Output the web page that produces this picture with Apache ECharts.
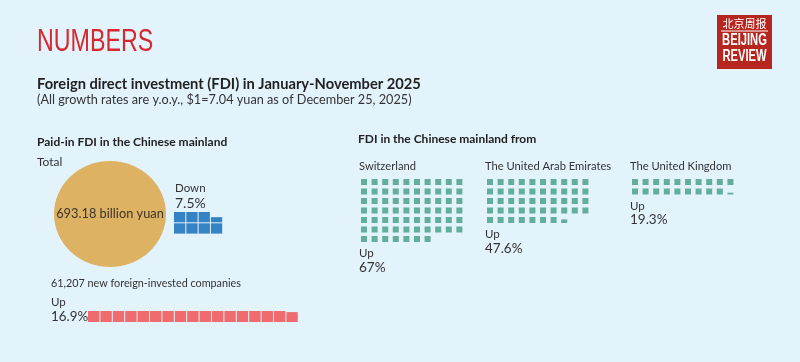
<!DOCTYPE html>
<html>
<head>
<meta charset="utf-8">
<script src="https://cdn.jsdelivr.net/npm/echarts@6/dist/echarts.min.js"></script>
<style>
html,body{margin:0;padding:0;background:#e2f3fb;}
#chart{width:800px;height:362px;}
</style>
</head>
<body>
<div id="chart"></div>
<script>
// ---- data ----
const paidInTotal = 693.18;            // billion yuan
const paidInChangePct = 7.5;           // down, y.o.y.
const newCompanies = 61207;
const newCompaniesChangePct = 16.9;    // up, y.o.y.
const countries = ['Switzerland', 'The United Arab Emirates', 'The United Kingdom'];
const countryChangePct = [67, 47.6, 19.3]; // up, y.o.y.

// ---- helpers ----
function buildCells(value, perLine, mode) {
  const n = Math.ceil(value), out = [];
  for (let i = 0; i < n; i++) {
    const frac = Math.min(1, value - i);
    let col, row;
    if (mode === 'col') { col = Math.floor(i / perLine); row = perLine - 1 - (i % perLine); }
    else { col = i % perLine; row = Math.floor(i / perLine); }
    out.push([col, row, frac]);
  }
  return out;
}
function makeRender(color, gx, gy) {
  return function (params, api) {
    const col = api.value(0), row = api.value(1), frac = api.value(2);
    const p = api.coord([col, row]);
    const s = api.size([1, 1]);
    const w = s[0] - gx, h = s[1] - gy, hh = h * frac;
    return { type: 'rect', shape: { x: p[0], y: p[1] + h - hh, width: w, height: hh }, style: { fill: color } };
  };
}

const FONT = 'Lato';
const txt = '#333';
const grids = [], xAxes = [], yAxes = [], series = [];
function addWaffle(cells, cols, rows, left, top, pitchX, pitchY, gx, gy, color) {
  const gi = grids.length;
  grids.push({ left: left, top: top, width: cols * pitchX, height: rows * pitchY, containLabel: false });
  xAxes.push({ type: 'value', gridIndex: gi, min: 0, max: cols, show: false });
  yAxes.push({ type: 'value', gridIndex: gi, min: 0, max: rows, inverse: true, show: false });
  series.push({ type: 'custom', xAxisIndex: gi, yAxisIndex: gi, data: cells, encode: { x: 0, y: 1 },
    renderItem: makeRender(color, gx, gy), clip: false, silent: true });
}

// total circle
grids.push({ left: 54, top: 161, width: 112, height: 106 });
xAxes.push({ type: 'value', gridIndex: 0, min: 0, max: 1, show: false });
yAxes.push({ type: 'value', gridIndex: 0, min: 0, max: 1, show: false });
series.push({ type: 'scatter', xAxisIndex: 0, yAxisIndex: 0, symbol: 'circle', symbolSize: [112, 106],
  itemStyle: { color: '#ddb262', opacity: 1 }, silent: true,
  data: [[0.5, 0.5, paidInTotal]],
  label: { show: true, position: 'inside', formatter: p => p.value[2].toFixed(2) + ' billion yuan',
    color: '#3a3530', fontFamily: FONT, fontSize: 12.8 } });

// paid-in change (blue)
addWaffle(buildCells(paidInChangePct, 2, 'col'), 4, 2, 174, 212, 12.3, 11.3, 1, 1, '#3583c4');
// new companies change (red)
addWaffle(buildCells(newCompaniesChangePct, 17, 'row'), 17, 1, 88, 311, 12.4, 12, 1, 1, '#ef6b6e');
// countries (teal)
const countryLeft = [361, 487, 632];
const countryRows = countryChangePct.map(v => Math.ceil(v / 10));
countryChangePct.forEach((v, i) => {
  addWaffle(buildCells(v, 10, 'row'), 10, countryRows[i], countryLeft[i], 179, 10.6, 9.5, 4.6, 3.5, '#62ad9b');
});

function T(text, x, y, size, opts) {
  opts = opts || {};
  return { type: 'text', x: x, y: y, scaleX: opts.scaleX || 1, silent: true,
    style: { text: text, fill: opts.color || txt, fontFamily: opts.family || FONT, fontSize: size,
      fontWeight: opts.bold ? 'bold' : 'normal', verticalAlign: 'middle', textVerticalAlign: 'middle',
      align: opts.align || 'left' } };
}

const g = [];
g.push(T('NUMBERS', 37, 42, 31, { color: '#d7282f', family: 'Liberation Sans', scaleX: 0.75 }));
g.push(T('Foreign direct investment (FDI) in January-November 2025', 37, 84, 14.7, { bold: true, color: '#222' }));
g.push(T('(All growth rates are y.o.y., $1=7.04 yuan as of December 25, 2025)', 37, 99.5, 12.7, { color: '#333' }));
g.push(T('Paid-in FDI in the Chinese mainland', 37, 142, 12, { bold: true, color: '#222' }));
g.push(T('Total', 37, 162, 12));
g.push(T('Down', 175, 188, 11.5));
g.push(T(paidInChangePct + '%', 175, 203, 14));
g.push(T(newCompanies.toLocaleString('en-US') + ' new foreign-invested companies', 51, 284, 10.8));
g.push(T('Up', 51, 302, 11.5));
g.push(T(newCompaniesChangePct + '%', 51, 317, 13.4));
g.push(T('FDI in the Chinese mainland from', 358, 139, 12, { bold: true, color: '#222' }));
countries.forEach((c, i) => {
  const x = countryLeft[i] - 2;
  const bottom = 179 + countryRows[i] * 9.5;
  g.push(T(c, x, 166, 11.2));
  g.push(T('Up', x, bottom + 8, 11.5));
  g.push(T(countryChangePct[i] + '%', x, bottom + 22, 13.5));
});
// logo
g.push({ type: 'rect', shape: { x: 717, y: 15, width: 55, height: 54 }, style: { fill: '#b5261f' }, silent: true });
g.push(T('北京周报', 744.5, 24, 11, { color: '#fff', family: 'Noto Sans CJK SC', align: 'center' }));
g.push({ type: 'line', shape: { x1: 721, y1: 31, x2: 768, y2: 31 }, style: { stroke: '#fff', lineWidth: 1 }, silent: true });
g.push({ type: 'text', x: 744.5, y: 41, scaleX: 0.7, silent: true, style: { text: 'BEIJING', fill: '#fff',
  fontFamily: 'Liberation Sans', fontWeight: 'bold', fontSize: 16, align: 'center', verticalAlign: 'middle' } });
g.push({ type: 'text', x: 744.5, y: 56.5, scaleX: 0.7, silent: true, style: { text: 'REVIEW', fill: '#fff',
  fontFamily: 'Liberation Sans', fontWeight: 'bold', fontSize: 16, align: 'center', verticalAlign: 'middle' } });

const chart = echarts.init(document.getElementById('chart'), null, { renderer: 'canvas' });
chart.setOption({
  backgroundColor: '#e2f3fb',
  animation: false,
  grid: grids, xAxis: xAxes, yAxis: yAxes, series: series,
  graphic: { elements: g }
});
</script>
</body>
</html>
